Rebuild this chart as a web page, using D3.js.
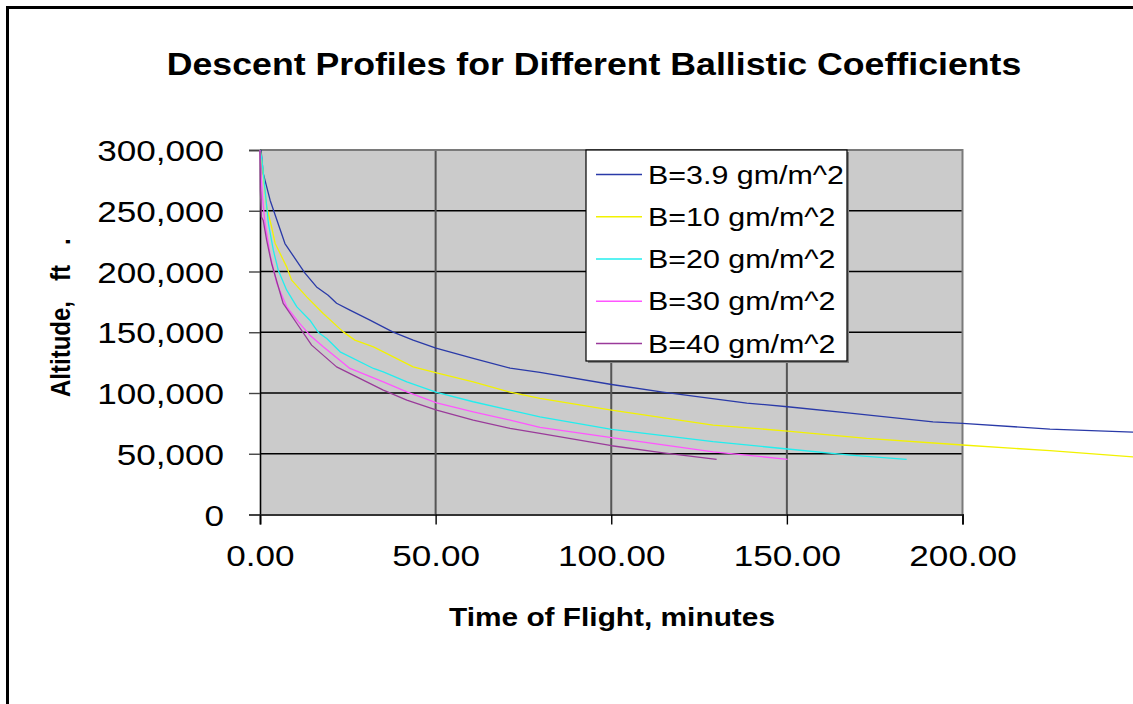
<!DOCTYPE html>
<html>
<head>
<meta charset="utf-8">
<script src="https://cdn.jsdelivr.net/npm/d3@7/dist/d3.min.js"></script>
<style>
  html, body { margin: 0; padding: 0; background: #ffffff; }
  svg { display: block; font-family: "Liberation Sans", Arial, sans-serif; }
</style>
</head>
<body>
<svg id="chart" width="1133" height="704"></svg>
<script>
// Descent profiles: time of flight (minutes) vs altitude (ft) for several ballistic coefficients
const seriesNames = ["B=3.9 gm/m^2", "B=10 gm/m^2", "B=20 gm/m^2", "B=30 gm/m^2", "B=40 gm/m^2"];
const seriesColors = ["#2a3aa8", "#f2f200", "#22eeee", "#ff55ff", "#9a3a9a"];

const timeB39 = [0.3, 0.9, 2.9, 7.1, 12.8, 16.1, 19.4, 21.8, 25.6, 31.3, 37.9, 43.6, 50.1, 60.7, 71.2, 79.7, 100.1, 114.7, 138.6, 150.2, 168, 191.6, 200, 224.9, 248.5, 255];
const altB39  = [300000, 281000, 258500, 223000, 198600, 187300, 180500, 173900, 168200, 160000, 150100, 143500, 136900, 128500, 120500, 117000, 107000, 100700, 91700, 88700, 83500, 76300, 75000, 70300, 67800, 67200];

const timeB10 = [0.1, 0.8, 1.9, 3.3, 4.3, 6.2, 7.6, 9.0, 13.3, 18.0, 23.7, 27.0, 32.3, 43.6, 50.3, 60.7, 71.2, 79.7, 100.1, 129, 150.2, 172.7, 200, 224.9, 248.5, 255];
const altB10  = [300000, 283700, 253100, 236700, 223300, 212000, 203800, 192900, 179100, 165500, 150300, 143500, 138000, 121500, 116600, 109200, 100700, 95600, 85900, 73600, 68700, 62700, 57200, 52500, 47500, 46300];

const timeB20 = [0, 0.5, 1.4, 2.4, 3.8, 5.2, 7.6, 10.5, 14.2, 16.6, 19.0, 22.8, 32.3, 35.1, 41.8, 50.3, 60.7, 71.2, 79.7, 100.1, 129, 150.2, 168, 184.1];
const altB20  = [300000, 292800, 268100, 239500, 217500, 201100, 184600, 170900, 159900, 149800, 144900, 133900, 120200, 117400, 109200, 100500, 92800, 85900, 80400, 70100, 59900, 53900, 48900, 45400];

const timeB30 = [0, 0.3, 0.7, 1.4, 2.9, 4.8, 7.6, 10.9, 14.2, 18.0, 25.6, 35.1, 41.8, 50.3, 60.7, 71.2, 79.7, 100.1, 129, 150.2];
const altB30  = [300000, 279000, 261000, 240500, 213400, 190100, 170900, 158600, 147600, 138000, 120200, 109200, 101000, 91900, 84500, 77700, 71700, 63200, 51600, 45400];

const timeB40 = [0, 0.1, 0.4, 0.9, 1.9, 3.3, 6.6, 10.5, 14.7, 21.8, 35.1, 41.8, 50.3, 60.7, 71.2, 79.7, 100.1, 114.8, 130];
const altB40  = [300000, 266900, 244700, 242200, 225700, 206600, 173700, 157200, 139400, 121500, 102400, 94200, 85900, 77700, 70900, 66800, 56600, 50800, 45400];

const xTicks = [0, 50, 100, 150, 200];
const yTicks = [0, 50000, 100000, 150000, 200000, 250000, 300000];

const chartTitle = "Descent Profiles for Different Ballistic Coefficients";
const xTitle = "Time of Flight, minutes";
const yTitle = "Altitude,   ft   .";

const series = [
  { name: seriesNames[0], color: seriesColors[0], t: timeB39, a: altB39 },
  { name: seriesNames[1], color: seriesColors[1], t: timeB10, a: altB10 },
  { name: seriesNames[2], color: seriesColors[2], t: timeB20, a: altB20 },
  { name: seriesNames[3], color: seriesColors[3], t: timeB30, a: altB30 },
  { name: seriesNames[4], color: seriesColors[4], t: timeB40, a: altB40 }
];

// glyphs are drawn wide: horizontal stretch applied to all text
const SX = 1.17;

const svg = d3.select("#chart");
const plot = { left: 260, right: 962.5, top: 150, bottom: 514.5 };

const x = d3.scaleLinear().domain([0, 200]).range([plot.left, plot.right]);
const y = d3.scaleLinear().domain([0, 300000]).range([plot.bottom, plot.top]);

// outer frame
svg.append("rect")
  .attr("x", 7.5).attr("y", 7.5)
  .attr("width", 1300).attr("height", 900)
  .attr("fill", "none").attr("stroke", "#000").attr("stroke-width", 3);

// title
svg.append("text")
  .attr("transform", `translate(594,64) scale(${SX},1)`)
  .attr("text-anchor", "middle").attr("dy", "0.35em")
  .style("font-weight", "bold").style("font-size", "30.5px")
  .text(chartTitle);

// plot background
svg.append("rect")
  .attr("x", plot.left).attr("y", plot.top)
  .attr("width", plot.right - plot.left).attr("height", plot.bottom - plot.top)
  .attr("fill", "#cbcbcb");

// horizontal gridlines
svg.append("g").selectAll("line")
  .data(yTicks.filter(v => v > 0 && v < 300000))
  .join("line")
  .attr("x1", plot.left).attr("x2", plot.right)
  .attr("y1", d => y(d)).attr("y2", d => y(d))
  .attr("stroke", "#000").attr("stroke-width", 1.3);

// vertical gridlines
svg.append("g").selectAll("line")
  .data(xTicks.filter(v => v > 0 && v < 200))
  .join("line")
  .attr("x1", d => x(d)).attr("x2", d => x(d))
  .attr("y1", plot.top).attr("y2", plot.bottom)
  .attr("stroke", "#555").attr("stroke-width", 2);

// plot border (top and right)
svg.append("path")
  .attr("d", `M${plot.left},${plot.top}H${plot.right}V${plot.bottom}`)
  .attr("fill", "none").attr("stroke", "#7a7a7a").attr("stroke-width", 2);

// y axis
const yAxis = svg.append("g")
  .attr("transform", `translate(${plot.left},0)`)
  .call(d3.axisLeft(y).tickValues(yTicks).tickSize(11).tickFormat(d3.format(",")));
yAxis.select(".domain").attr("stroke", "#000").attr("stroke-width", 1.6);
yAxis.selectAll(".tick line").attr("stroke", "#444").attr("stroke-width", 1.4);
yAxis.selectAll(".tick text")
  .attr("x", 0).attr("dy", "0.35em")
  .attr("transform", `translate(-36,0) scale(${SX},1)`)
  .attr("fill", "#000")
  .style("font-size", "30px").style("font-family", "Liberation Sans, Arial, sans-serif");

// x axis
const xAxis = svg.append("g")
  .attr("transform", `translate(0,${plot.bottom})`)
  .call(d3.axisBottom(x).tickValues(xTicks).tickSize(10).tickFormat(d3.format(".2f")));
xAxis.select(".domain").attr("stroke", "#333").attr("stroke-width", 2);
xAxis.selectAll(".tick line").attr("stroke", "#000").attr("stroke-width", 1.4);
xAxis.selectAll(".tick text")
  .attr("y", 0).attr("dy", "0.35em")
  .attr("transform", `translate(0,41) scale(${SX},1)`)
  .attr("fill", "#000")
  .style("font-size", "30px").style("font-family", "Liberation Sans, Arial, sans-serif");

// axis titles
svg.append("text")
  .attr("transform", `translate(612,617) scale(${SX},1)`)
  .attr("text-anchor", "middle").attr("dy", "0.35em")
  .style("font-weight", "bold").style("font-size", "25.5px")
  .text(xTitle);

svg.append("text")
  .attr("transform", `translate(70,397) scale(${SX},1) rotate(-90)`)
  .attr("text-anchor", "start")
  .attr("xml:space", "preserve").style("white-space", "pre")
  .style("font-weight", "bold").style("font-size", "24px")
  .text(yTitle);

// series lines (not clipped: they run past the plot's right edge)
const line = d3.line().x(d => x(d[0])).y(d => y(d[1]));
svg.append("g").selectAll("path")
  .data(series)
  .join("path")
  .attr("d", s => line(s.t.map((t, i) => [t, s.a[i]])))
  .attr("fill", "none")
  .attr("stroke", s => s.color)
  .attr("stroke-width", 1.3)
  .attr("stroke-linejoin", "round");

// legend
const legend = svg.append("g");
legend.append("rect")
  .attr("x", 588).attr("y", 152).attr("width", 261).attr("height", 211)
  .attr("fill", "#808080");
legend.append("rect")
  .attr("x", 586).attr("y", 150).attr("width", 261).attr("height", 211)
  .attr("fill", "#fff").attr("stroke", "#000").attr("stroke-width", 1.2);
const rowY = d3.scalePoint().domain(seriesNames).range([174.5, 343.5]);
const rows = legend.selectAll("g.row").data(series).join("g").attr("class", "row")
  .attr("transform", s => `translate(0,${rowY(s.name)})`);
rows.append("line")
  .attr("x1", 596).attr("x2", 642).attr("y1", 0).attr("y2", 0)
  .attr("stroke", s => s.color).attr("stroke-width", 1.5);
rows.append("text")
  .attr("transform", `translate(648,0) scale(${SX},1)`)
  .attr("dy", "0.35em")
  .style("font-size", "26px")
  .text(s => s.name);
</script>
</body>
</html>
